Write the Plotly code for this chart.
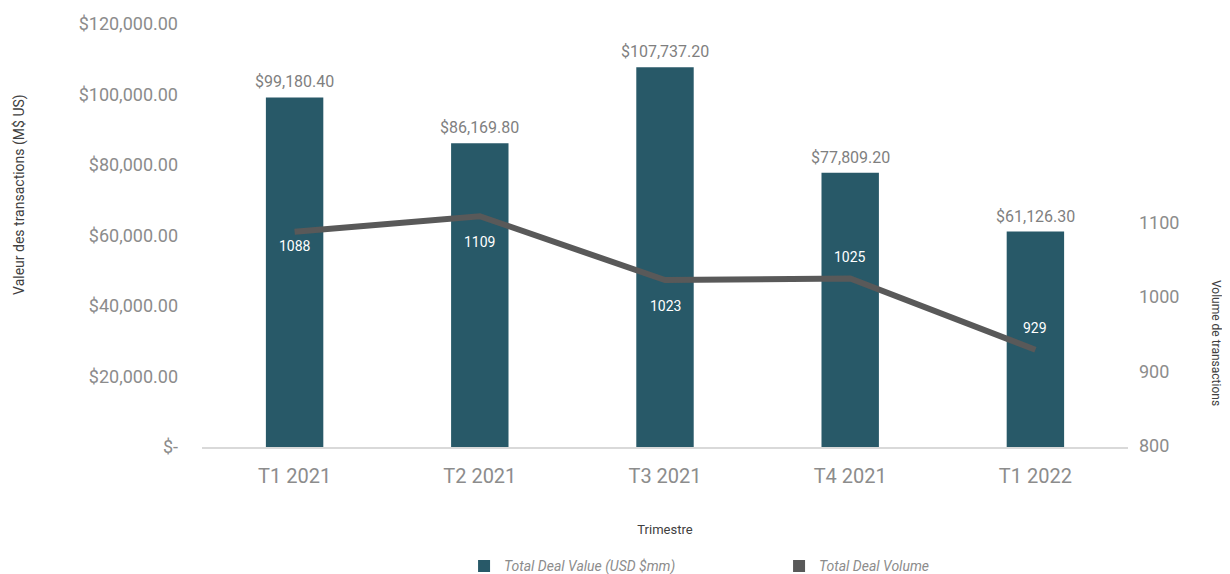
import plotly.graph_objects as go

categories = ["T1 2021", "T2 2021", "T3 2021", "T4 2021", "T1 2022"]
deal_value = [99180.40, 86169.80, 107737.20, 77809.20, 61126.30]
deal_volume = [1088, 1109, 1023, 1025, 929]
left_tickvals = [0, 20000, 40000, 60000, 80000, 100000, 120000]
left_ticktext = ["$-", "$20,000.00", "$40,000.00", "$60,000.00", "$80,000.00", "$100,000.00", "$120,000.00"]
right_tickvals = [800, 900, 1000, 1100]

BAR = "#285968"
LINE = "#595959"
GREY = "#8c8c8c"
FONT = "Roboto"

fig = go.Figure()
fig.add_trace(go.Bar(
    x=categories, y=deal_value, name="Total Deal Value (USD $mm)",
    marker=dict(color=BAR, line=dict(width=0)),
))
fig.add_trace(go.Scatter(
    x=categories, y=deal_volume, name="Total Deal Volume", yaxis="y2",
    mode="lines", line=dict(color=LINE, width=6), showlegend=False,
))
# legend-only entry with a square swatch, as in the reference
fig.add_trace(go.Scatter(
    x=[None], y=[None], name="Total Deal Volume", yaxis="y2", mode="markers",
    marker=dict(symbol="square", color=LINE, size=10),
))

# bar value labels
for c, v in zip(categories, deal_value):
    fig.add_annotation(x=c, y=v, text=f"${v:,.2f}", showarrow=False,
                       yanchor="bottom", yshift=4,
                       font=dict(family=FONT, size=16, color="#7f7f7f"))

# line value labels
label_shift = [-14, -26, -26, 22, 22]
for c, v, s in zip(categories, deal_volume, label_shift):
    fig.add_annotation(x=c, y=v, yref="y2", text=str(v), showarrow=False,
                       yshift=s, font=dict(family=FONT, size=14, color="white"))

fig.add_annotation(text="Valeur des transactions (M$ US)", xref="paper", yref="paper",
                   x=-0.1965, y=0.596, textangle=-90, showarrow=False,
                   xanchor="center", yanchor="middle",
                   font=dict(family=FONT, size=14, color="#404040"))
fig.add_annotation(text="Volume de transactions", xref="paper", yref="paper",
                   x=1.095, y=0.246, textangle=90, showarrow=False,
                   xanchor="center", yanchor="middle",
                   font=dict(family=FONT, size=12, color="#404040"))

fig.update_layout(
    width=1222, height=566,
    margin=dict(l=194, r=102, t=16, b=127, autoexpand=False),
    plot_bgcolor="white", paper_bgcolor="white",
    bargap=0.69,
    showlegend=True,
    legend=dict(orientation="h", x=0.283, y=-0.282, xanchor="left", yanchor="middle",
                font=dict(family=FONT, size=14, color=GREY, style="italic"),
                entrywidth=270, entrywidthmode="pixels", itemsizing="constant",
                traceorder="normal"),
    xaxis=dict(showline=True, linecolor="#d9d9d9", linewidth=1.5, ticks="", automargin=False,
               tickfont=dict(family=FONT, size=20, color=GREY), ticklabelstandoff=10,
               title=dict(text="Trimestre", font=dict(family=FONT, size=13, color="#404040"), standoff=38)),
    yaxis=dict(range=[0, 120000], tickvals=left_tickvals, ticktext=left_ticktext, automargin=False,
               showgrid=False, zeroline=False, showline=False,
               tickfont=dict(family=FONT, size=18, color=GREY), ticklabelstandoff=23),
    yaxis2=dict(overlaying="y", side="right", range=[798, 1368], tickvals=right_tickvals, automargin=False,
                showgrid=False, zeroline=False, showline=False,
                tickfont=dict(family=FONT, size=18, color=GREY), ticklabelstandoff=10),
)

fig.write_html("out.html")
